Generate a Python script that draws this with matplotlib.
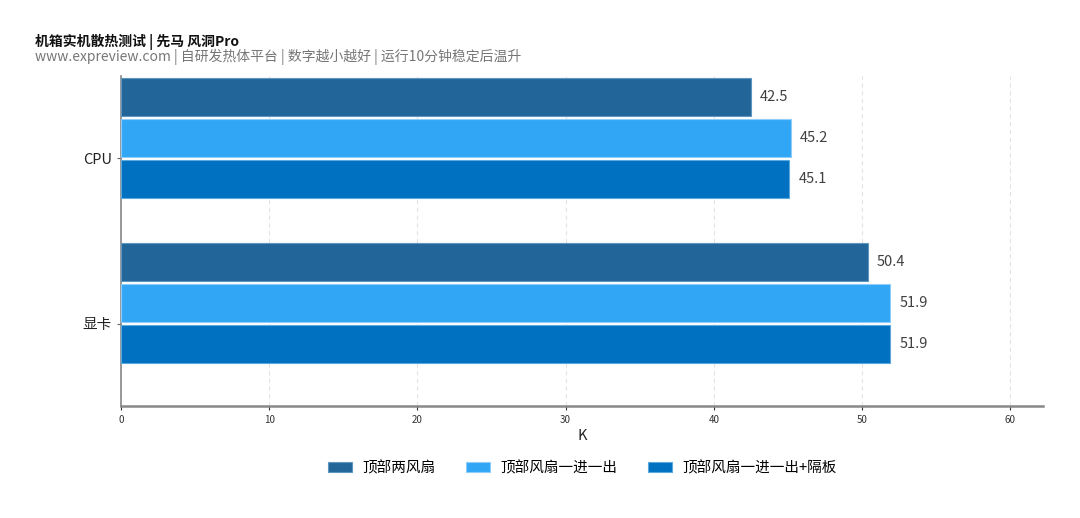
import numpy as np
import matplotlib.pyplot as plt

plt.rcParams['font.family'] = ['Noto Sans CJK SC', 'DejaVu Sans']

# data
categories = ['CPU', '显卡']
series_names = ['顶部两风扇', '顶部风扇一进一出', '顶部风扇一进一出+隔板']
s1 = [42.5, 50.4]
s2 = [45.2, 51.9]
s3 = [45.1, 51.9]
colors = ['#226699', '#31A6F5', '#0071C1']
edges = ['#5E96C0', '#8ECDF9', '#5AA8DD']

fig = plt.figure(figsize=(10.8, 5.18), dpi=100)
ax = fig.add_axes([0.112, 0.2162, 0.8537, 0.6371])

y = np.arange(len(categories))
step = 0.25
h = 0.23
offsets = [-1.5 * step, -0.5 * step, 0.5 * step]
for vals, name, c, ec, off in zip([s1, s2, s3], series_names, colors, edges, offsets):
    bars = ax.barh(y + off, vals, height=h, color=c, edgecolor=ec, linewidth=0.8, label=name, zorder=3)
    for b, v in zip(bars, vals):
        ax.text(v + 0.6, b.get_y() + b.get_height() / 2, f'{v}', va='center', ha='left',
                fontsize=10.5, color='#404040')

ax.set_ylim(1.5, -0.5)
ax.set_xlim(0, 62.2)
ax.set_yticks(y)
ax.set_yticklabels(categories, fontsize=10.5, color='#222222')
ax.set_xticks(range(0, 61, 10))
ax.tick_params(axis='x', labelsize=7, colors='#333333', length=3, width=0.8)
ax.tick_params(axis='y', length=3, width=0.8, colors='#666666', labelcolor='#222222')
for lab in ax.get_xticklabels():
    lab.set_fontstretch('condensed')
ax.xaxis.grid(True, linestyle=(0, (4, 3)), color='#e3e3e3', linewidth=0.8, zorder=0)
ax.set_axisbelow(True)

for s in ['top', 'right']:
    ax.spines[s].set_visible(False)
ax.spines['left'].set_color('#888888')
ax.spines['left'].set_linewidth(1.2)
ax.spines['bottom'].set_color('#888888')
ax.spines['bottom'].set_linewidth(1.8)

ax.set_xlabel('K', fontsize=10.5, color='#222222', labelpad=3)

fig.text(0.032, 0.912, '机箱实机散热测试 | 先马 风洞Pro', fontsize=10, fontweight='bold', color='#111111')
fig.text(0.032, 0.882, 'www.expreview.com | 自研发热体平台 | 数字越小越好 | 运行10分钟稳定后温升',
         fontsize=10, color='#777777')

fig.legend(loc='center', bbox_to_anchor=(0.539, 0.097), ncol=3, frameon=False,
           fontsize=10.5, handlelength=1.65, handleheight=0.75, columnspacing=2.1,
           handletextpad=0.7)

fig.savefig('out.png', dpi=100)
